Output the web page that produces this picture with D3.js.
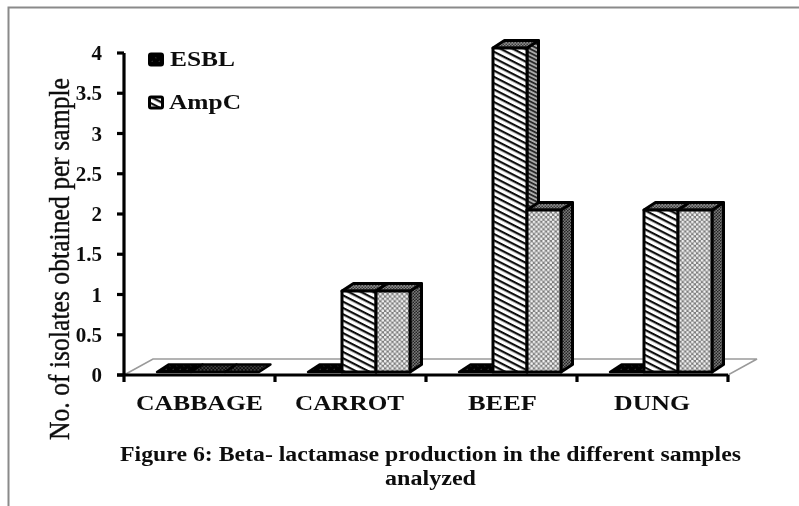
<!DOCTYPE html>
<html><head><meta charset="utf-8">
<style>html,body{margin:0;padding:0;background:#fff;overflow:hidden}svg{display:block}text{font-family:"Liberation Serif",serif;fill:#111}</style>
<script src="https://cdnjs.cloudflare.com/ajax/libs/d3/7.9.0/d3.min.js"></script>
</head><body><svg id="c" width="799" height="506"></svg>
<script>
const categories=["CABBAGE","CARROT","BEEF","DUNG"];
const seriesNames=["ESBL","AmpC","Unnamed"];
const esbl=[0,0,0,0];
const ampc=[0,1,4,2];
const third=[0,1,2,2];
const yTicks=[0,0.5,1,1.5,2,2.5,3,3.5,4];
const tickLabels=["0","0.5","1","1.5","2","2.5","3","3.5","4"];
const legendNames=["ESBL","AmpC"];
const yLabel="No. of isolates obtained per sample";
const captionLines=["Figure 6: Beta- lactamase production in the different samples","analyzed"];

const svg=d3.select("#c");
const defs=svg.append("defs");
defs.append("filter").attr("id","soft").append("feGaussianBlur").attr("stdDeviation",0.6);
function stripes(id,bg,fg,size,w){
  const p=defs.append("pattern").attr("id",id).attr("patternUnits","userSpaceOnUse")
    .attr("width",size).attr("height",size).attr("patternTransform","rotate(27)");
  p.append("rect").attr("width",size).attr("height",size).attr("fill",bg);
  p.append("rect").attr("width",size).attr("height",w).attr("fill",fg);
}
function dots(id,bg,fg,size,r){
  const p=defs.append("pattern").attr("id",id).attr("patternUnits","userSpaceOnUse").attr("width",size).attr("height",size);
  p.append("rect").attr("width",size).attr("height",size).attr("fill",bg);
  [[size/4,size/4],[size*3/4,size*3/4]].forEach(c=>p.append("circle").attr("cx",c[0]).attr("cy",c[1]).attr("r",r).attr("fill",fg));
}
stripes("hFront","#fff","#111",5.6,2.2);
stripes("hSide","#aaa","#222",3.6,1.7);
dots("dFront","#7e7e7e","#f2f2f2",4.8,1.35);
dots("dSide","#7a7a7a","#222",3,0.85);
dots("dTop","#8a8a8a","#333",3,0.8);
dots("eFront","#050505","#444",7,0.6);
dots("flatLight","#0c0c0c","#888",3.6,0.7);
const faces={
  ESBL:{front:"url(#eFront)",side:"#111",top:"url(#eFront)",flat:"url(#eFront)"},
  AmpC:{front:"url(#hFront)",side:"url(#hSide)",top:"url(#dTop)",flat:"url(#flatLight)"},
  Unnamed:{front:"url(#dFront)",side:"url(#dSide)",top:"url(#dTop)",flat:"url(#flatLight)"}
};
const g=svg.append("g").attr("filter","url(#soft)");

// frame
g.append("path").attr("d","M8.5,506V7.5H799").attr("fill","none").attr("stroke","#8a8a8a").attr("stroke-width",2);

const x=d3.scaleBand().domain(categories).range([124,728]);
const inner=d3.scaleBand().domain(seriesNames).range([33,135]);
const yAxis=d3.scaleLinear().domain([0,4]).range([375,53]);
const yBar=d3.scaleLinear().domain([0,4]).range([372,48]);
const dx=11.5,dy=7.5;

// floor
const fl=[[124,375],[153,359],[757,359],[728,375]];
g.append("path").attr("d",d3.line()(fl)+"Z").attr("fill","#fff").attr("stroke","#9a9a9a").attr("stroke-width",1.6);

// bars
const rows=[];
categories.forEach((c,i)=>{[esbl,ampc,third].forEach((arr,s)=>rows.push({c,name:seriesNames[s],v:arr[i]}));});
const barG=g.append("g").attr("stroke","#050505").attr("stroke-width",3).attr("stroke-linejoin","round");
rows.forEach(d=>{
  const x0=x(d.c)+inner(d.name),w=inner.bandwidth(),x1=x0+w,yt=yBar(d.v),yb=yBar(0),f=faces[d.name];
  if(d.v>0){
    barG.append("path").attr("d",`M${x1},${yt}L${x1+dx},${yt-dy}L${x1+dx},${yb-dy}L${x1},${yb}Z`).attr("fill",f.side);
    barG.append("path").attr("d",`M${x0},${yt}L${x0+dx},${yt-dy}L${x1+dx},${yt-dy}L${x1},${yt}Z`).attr("fill",f.top);
    barG.append("rect").attr("x",x0).attr("y",yt).attr("width",w).attr("height",yb-yt).attr("fill",f.front);
  } else {
    barG.append("path").attr("d",`M${x0},${yb}L${x0+dx},${yb-dy}L${x1+dx},${yb-dy}L${x1},${yb}Z`)
      .attr("stroke-width",2.4).attr("fill",f.flat);
  }
});

// axes
const ax=g.append("g").attr("stroke","#000").attr("stroke-width",3.2).attr("fill","none");
ax.append("line").attr("x1",124).attr("x2",124).attr("y1",yAxis(4)).attr("y2",yAxis(0));
ax.append("line").attr("x1",117).attr("x2",728).attr("y1",yAxis(0)).attr("y2",yAxis(0));
yTicks.forEach(t=>ax.append("line").attr("x1",117).attr("x2",124).attr("y1",yAxis(t)).attr("y2",yAxis(t)));
x.domain().forEach(c=>ax.append("line").attr("x1",x(c)).attr("x2",x(c)).attr("y1",375).attr("y2",382));
ax.append("line").attr("x1",728).attr("x2",728).attr("y1",375).attr("y2",382);

yTicks.forEach((t,i)=>g.append("text").attr("x",102).attr("y",yAxis(t)+7).attr("text-anchor","end")
  .attr("font-size",21).attr("font-weight","bold").text(tickLabels[i]));

const catPos=[[136,127],[295,109],[468,69],[614,76]];
categories.forEach((c,i)=>g.append("text").attr("x",catPos[i][0]).attr("y",410)
  .attr("font-size",22).attr("font-weight","bold").attr("textLength",catPos[i][1]).attr("lengthAdjust","spacingAndGlyphs").text(c));

// y label
g.append("text").attr("transform","translate(69,440) rotate(-90)").attr("font-size",30)
  .attr("textLength",362).attr("lengthAdjust","spacingAndGlyphs").attr("stroke","#111").attr("stroke-width",0.4).text(yLabel);

// legend
const legY=[59,102],legFill=["url(#eFront)","url(#hFront)"],legW=[65,72],legX=[170,169];
legendNames.forEach((n,i)=>{
  g.append("rect").attr("x",149.5).attr("y",legY[i]-5).attr("width",13).attr("height",11).attr("rx",1.5)
   .attr("fill",legFill[i]).attr("stroke","#000").attr("stroke-width",3);
  g.append("text").attr("x",legX[i]).attr("y",legY[i]+7).attr("font-size",21).attr("font-weight","bold")
   .attr("textLength",legW[i]).attr("lengthAdjust","spacingAndGlyphs").text(n);
});

// caption
const capPos=[[120,621,461],[385,91,485]];
captionLines.forEach((l,i)=>g.append("text").attr("x",capPos[i][0]).attr("y",capPos[i][2]).attr("font-size",20).attr("font-weight","bold")
  .attr("textLength",capPos[i][1]).attr("lengthAdjust","spacingAndGlyphs").text(l));
</script></body></html>
